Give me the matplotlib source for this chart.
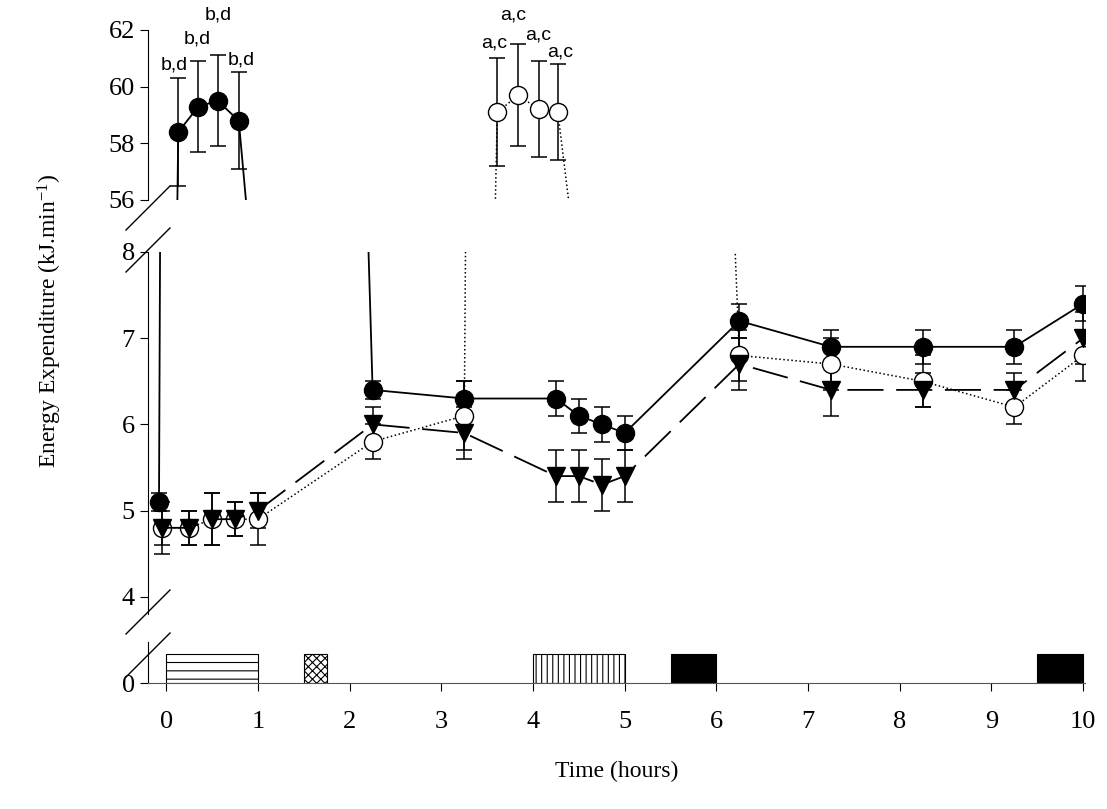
import matplotlib
matplotlib.use("Agg")
import matplotlib.pyplot as plt

# Filled circles (solid line)
fc_x = [-0.08, 0.13, 0.35, 0.56, 0.79, 2.25, 3.25, 4.25, 4.5, 4.75, 5.0, 6.25, 7.25, 8.25, 9.25, 10.0]
fc_y = [5.1, 58.4, 59.3, 59.5, 58.8, 6.4, 6.3, 6.3, 6.1, 6.0, 5.9, 7.2, 6.9, 6.9, 6.9, 7.4]
fc_e = [0.1, 1.9, 1.6, 1.6, 1.7, 0.1, 0.2, 0.2, 0.2, 0.2, 0.2, 0.2, 0.2, 0.2, 0.2, 0.2]
# Open circles (dotted line)
oc_x = [-0.05, 0.25, 0.5, 0.75, 1.0, 2.25, 3.25, 3.61, 3.84, 4.06, 4.27, 6.25, 7.25, 8.25, 9.25, 10.0]
oc_y = [4.8, 4.8, 4.9, 4.9, 4.9, 5.8, 6.1, 59.1, 59.7, 59.2, 59.1, 6.8, 6.7, 6.5, 6.2, 6.8]
oc_e = [0.2, 0.2, 0.3, 0.2, 0.3, 0.2, 0.4, 1.9, 1.8, 1.7, 1.7, 0.3, 0.3, 0.3, 0.2, 0.3]
# Triangles (dashed line)
tr_x = [-0.05, 0.25, 0.5, 0.75, 1.0, 2.25, 3.25, 4.25, 4.5, 4.75, 5.0, 6.25, 7.25, 8.25, 9.25, 10.0]
tr_y = [4.8, 4.8, 4.9, 4.9, 5.0, 6.0, 5.9, 5.4, 5.4, 5.3, 5.4, 6.7, 6.4, 6.4, 6.4, 7.0]
tr_e = [0.3, 0.2, 0.3, 0.2, 0.2, 0.2, 0.3, 0.3, 0.3, 0.3, 0.3, 0.3, 0.3, 0.2, 0.2, 0.3]

fc_labels = ["b,d", "b,d", "b,d", "b,d"]
oc_labels = ["a,c", "a,c", "a,c", "a,c"]
# label anchor positions (layout)
fc_lab_x = [0.09, 0.34, 0.57, 0.82]
fc_lab_y = [60.76, 61.68, 62.53, 60.94]
oc_lab_x = [3.57, 3.78, 4.06, 4.29]
oc_lab_y = [61.54, 62.53, 61.82, 61.22]

bar_start = [0.0, 1.5, 4.0, 5.5, 9.5]
bar_width = [1.0, 0.25, 1.0, 0.5, 0.5]
bar_hatch = ['--', 'xxxx', '|||', None, None]
bar_fill = ['white', 'white', 'white', 'black', 'black']

xticks = list(range(0, 11))

serif = ['Liberation Serif', 'DejaVu Serif']
plt.rcParams['font.family'] = serif
plt.rcParams['mathtext.fontset'] = 'custom'
plt.rcParams['mathtext.rm'] = 'Liberation Serif'
plt.rcParams['mathtext.it'] = 'Liberation Serif:italic'
plt.rcParams['hatch.linewidth'] = 0.8

W, H = 1107, 809
fig = plt.figure(figsize=(W / 100, H / 100), dpi=100)
L, R = 148 / W, 1085 / W
axT = fig.add_axes([L, 1 - 200 / H, R - L, 170 / H])
axM = fig.add_axes([L, 1 - 614 / H, R - L, 362 / H])
axB = fig.add_axes([L, 1 - 683 / H, R - L, 41 / H])
xlim = (-0.2, 10.02)

for ax in (axT, axM):
    ax.plot(fc_x, fc_y, '-', color='black', lw=1.3, marker='o', ms=13, mfc='black', mec='black', zorder=3)
    ax.plot(oc_x, oc_y, ':', color='black', lw=1.1, marker='o', ms=13, mfc='white', mec='black', zorder=3)
    ax.plot(tr_x, tr_y, linestyle=(0, (20, 7)), color='black', lw=1.3, marker='v', ms=13, mfc='black', mec='black', zorder=3)
    for xs, ys, es in ((fc_x, fc_y, fc_e), (oc_x, oc_y, oc_e), (tr_x, tr_y, tr_e)):
        ax.errorbar(xs, ys, yerr=es, fmt='none', ecolor='black', elinewidth=1.1, capsize=6, capthick=1.1, zorder=2)
    ax.set_xlim(*xlim)
    for s in ('top', 'right', 'bottom'):
        ax.spines[s].set_visible(False)
    ax.tick_params(axis='x', bottom=False, labelbottom=False)
    ax.tick_params(axis='y', direction='out', length=6, labelsize=19)

axT.set_ylim(56, 62)
axT.set_yticks([56, 58, 60, 62])
axM.set_ylim(3.8, 8)
axM.set_yticks([4, 5, 6, 7, 8])
axM.set_ylabel("Energy Expenditure (kJ.min$^{\\mathregular{-1}}$)", fontsize=17)
axM.yaxis.set_label_coords(-0.09, 0.81)

sans = ['Liberation Sans', 'DejaVu Sans']
for i in range(4):
    axT.text(fc_lab_x[i], fc_lab_y[i], fc_labels[i], ha='center', va='center', fontsize=14, family=sans, clip_on=False)
    axT.text(oc_lab_x[i], oc_lab_y[i], oc_labels[i], ha='center', va='center', fontsize=14, family=sans, clip_on=False)

for s, w, h, c in zip(bar_start, bar_width, bar_hatch, bar_fill):
    axB.bar(s, 0.7, width=w, align='edge', color=c, edgecolor='black', hatch=h, lw=0.8)
axB.set_xlim(*xlim)
axB.set_ylim(0, 1)
axB.set_yticks([0])
axB.set_xticks(xticks)
axB.tick_params(axis='both', direction='out', length=6, labelsize=19)
axB.tick_params(axis='x', pad=14)
for s in ('top', 'right'):
    axB.spines[s].set_visible(False)
axB.spines['bottom'].set_color('#555555')
axB.set_xlabel("Time (hours)", fontsize=17, labelpad=20)

def slash(xc, yc):
    fig.add_artist(plt.Line2D([xc - 22 / W, xc + 22 / W], [yc - 22 / H, yc + 22 / H],
                              transform=fig.transFigure, color='black', lw=1))
slash(L, 1 - 208 / H)
slash(L, 1 - 250 / H)
slash(L, 1 - 612 / H)
slash(L, 1 - 655 / H)

fig.savefig("out.png", dpi=100)
